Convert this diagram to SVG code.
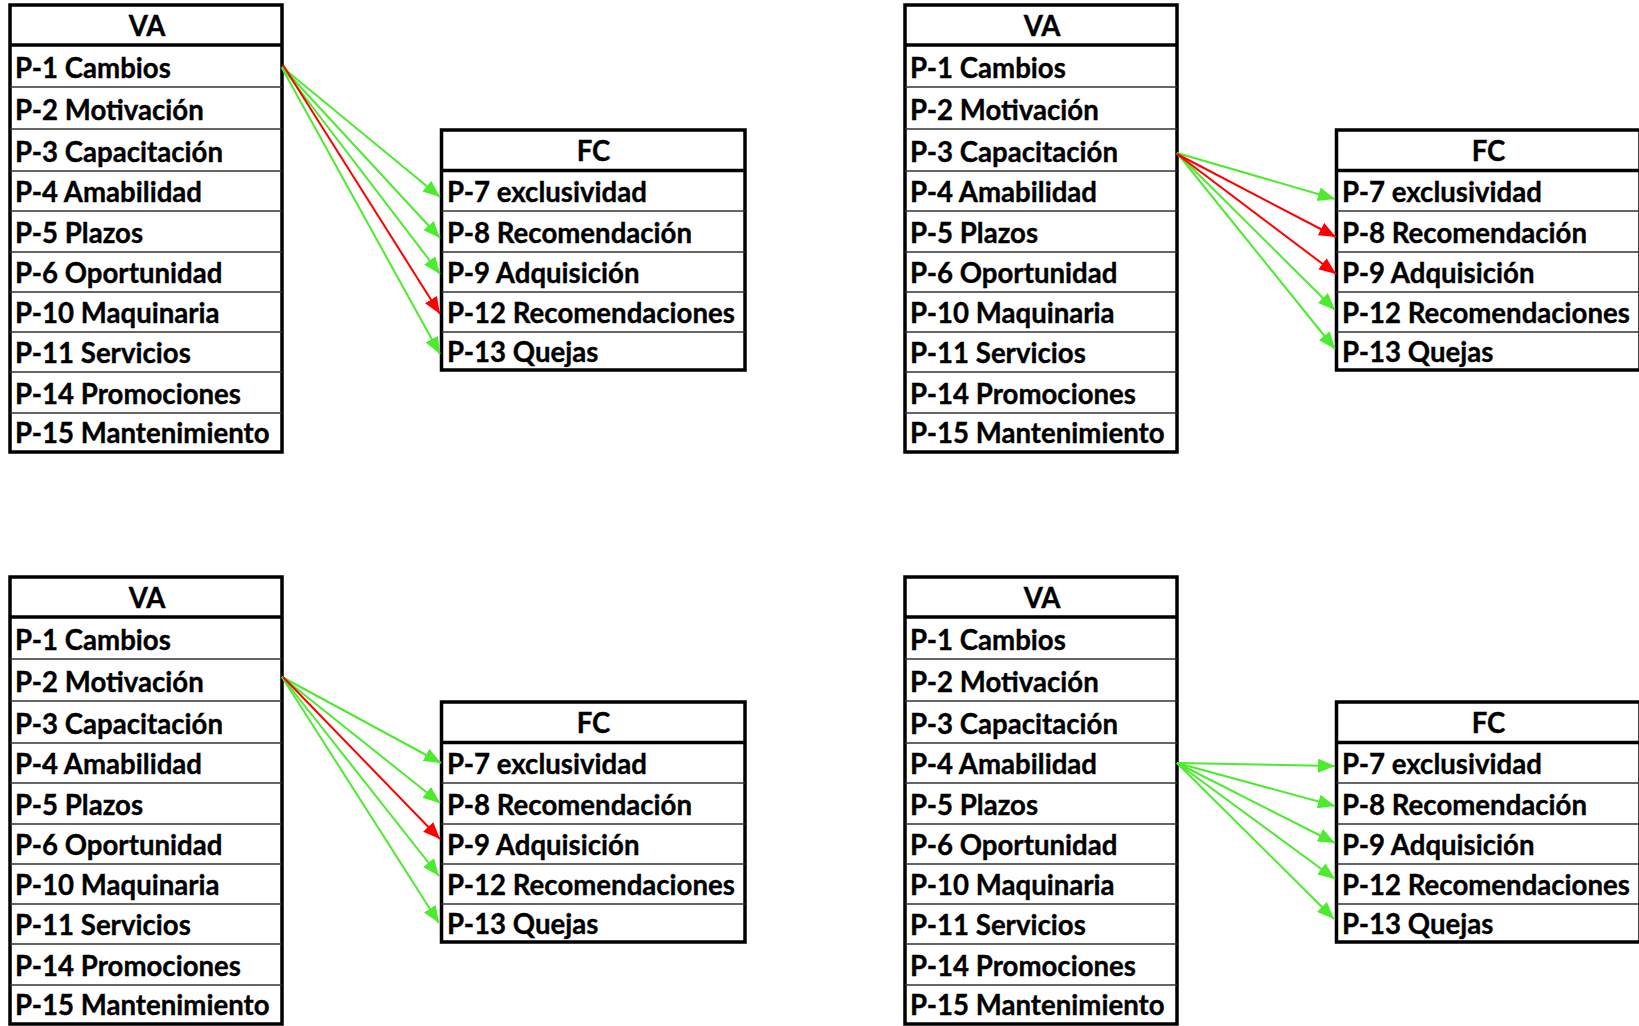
<svg xmlns="http://www.w3.org/2000/svg" width="1639" height="1026" viewBox="0 0 1639 1026">
  <style>
    .frame { fill: #ffffff; stroke: #000000; stroke-width: 3.5; }
    .rule { stroke: #333333; stroke-width: 1.6; }
    .head-rule { stroke: #000000; stroke-width: 3.5; }
    .lbl { font-family: Lato, "Open Sans", "Liberation Sans", sans-serif; font-weight: 700; font-size: 27.6px; fill: #000000; stroke: #000000; stroke-width: 0.35px; }
    .hdr { text-anchor: middle; }
    .link { fill: none; stroke-width: 2; }
    .pos { stroke: #4ceb2f; marker-end: url(#tip-green); }
    .neg { stroke: #ff0000; marker-end: url(#tip-red); }
  </style>
  <defs>
    <marker id="tip-green" markerUnits="userSpaceOnUse" markerWidth="18" markerHeight="14" refX="17" refY="7" orient="auto">
      <path d="M0,0 L17,7 L0,14 Z" fill="#4ceb2f"/>
    </marker>
    <marker id="tip-red" markerUnits="userSpaceOnUse" markerWidth="18" markerHeight="14" refX="17" refY="7" orient="auto">
      <path d="M0,0 L17,7 L0,14 Z" fill="#ff0000"/>
    </marker>
  </defs>

  <rect x="0" y="0" width="1639" height="1026" fill="#ffffff"/>

  <!-- ===== top left: links from P-1 Cambios ===== -->
  <g id="va-top-left">
    <rect class="frame" x="10" y="5" width="272" height="447"/>
    <line class="rule" x1="10" y1="87" x2="282" y2="87"/>
    <line class="rule" x1="10" y1="129" x2="282" y2="129"/>
    <line class="rule" x1="10" y1="171" x2="282" y2="171"/>
    <line class="rule" x1="10" y1="211" x2="282" y2="211"/>
    <line class="rule" x1="10" y1="252" x2="282" y2="252"/>
    <line class="rule" x1="10" y1="292" x2="282" y2="292"/>
    <line class="rule" x1="10" y1="332" x2="282" y2="332"/>
    <line class="rule" x1="10" y1="372" x2="282" y2="372"/>
    <line class="rule" x1="10" y1="413" x2="282" y2="413"/>
    <line class="head-rule" x1="10" y1="45" x2="282" y2="45"/>
    <text class="lbl hdr" x="147" y="36">VA</text>
    <text class="lbl" x="15" y="78">P-1 Cambios</text>
    <text class="lbl" x="15" y="120">P-2 Motivación</text>
    <text class="lbl" x="15" y="162">P-3 Capacitación</text>
    <text class="lbl" x="15" y="202">P-4 Amabilidad</text>
    <text class="lbl" x="15" y="243">P-5 Plazos</text>
    <text class="lbl" x="15" y="283">P-6 Oportunidad</text>
    <text class="lbl" x="15" y="323">P-10 Maquinaria</text>
    <text class="lbl" x="15" y="363">P-11 Servicios</text>
    <text class="lbl" x="15" y="404">P-14 Promociones</text>
    <text class="lbl" x="15" y="443">P-15 Mantenimiento</text>
  </g>
  <g id="fc-top-left">
    <rect class="frame" x="441.5" y="130" width="303.5" height="240"/>
    <line class="rule" x1="441.5" y1="211" x2="745" y2="211"/>
    <line class="rule" x1="441.5" y1="252" x2="745" y2="252"/>
    <line class="rule" x1="441.5" y1="292" x2="745" y2="292"/>
    <line class="rule" x1="441.5" y1="332" x2="745" y2="332"/>
    <line class="head-rule" x1="441.5" y1="170.5" x2="745" y2="170.5"/>
    <text class="lbl hdr" x="593.5" y="161">FC</text>
    <text class="lbl" x="447" y="202">P-7 exclusividad</text>
    <text class="lbl" x="447" y="243">P-8 Recomendación</text>
    <text class="lbl" x="447" y="283">P-9 Adquisición</text>
    <text class="lbl" x="447" y="323">P-12 Recomendaciones</text>
    <text class="lbl" x="447" y="362">P-13 Quejas</text>
  </g>

  <!-- ===== top right: links from P-3 Capacitación ===== -->
  <g id="va-top-right" transform="translate(895,0)">
    <rect class="frame" x="10" y="5" width="272" height="447"/>
    <line class="rule" x1="10" y1="87" x2="282" y2="87"/>
    <line class="rule" x1="10" y1="129" x2="282" y2="129"/>
    <line class="rule" x1="10" y1="171" x2="282" y2="171"/>
    <line class="rule" x1="10" y1="211" x2="282" y2="211"/>
    <line class="rule" x1="10" y1="252" x2="282" y2="252"/>
    <line class="rule" x1="10" y1="292" x2="282" y2="292"/>
    <line class="rule" x1="10" y1="332" x2="282" y2="332"/>
    <line class="rule" x1="10" y1="372" x2="282" y2="372"/>
    <line class="rule" x1="10" y1="413" x2="282" y2="413"/>
    <line class="head-rule" x1="10" y1="45" x2="282" y2="45"/>
    <text class="lbl hdr" x="147" y="36">VA</text>
    <text class="lbl" x="15" y="78">P-1 Cambios</text>
    <text class="lbl" x="15" y="120">P-2 Motivación</text>
    <text class="lbl" x="15" y="162">P-3 Capacitación</text>
    <text class="lbl" x="15" y="202">P-4 Amabilidad</text>
    <text class="lbl" x="15" y="243">P-5 Plazos</text>
    <text class="lbl" x="15" y="283">P-6 Oportunidad</text>
    <text class="lbl" x="15" y="323">P-10 Maquinaria</text>
    <text class="lbl" x="15" y="363">P-11 Servicios</text>
    <text class="lbl" x="15" y="404">P-14 Promociones</text>
    <text class="lbl" x="15" y="443">P-15 Mantenimiento</text>
  </g>
  <g id="fc-top-right" transform="translate(895,0)">
    <rect class="frame" x="441.5" y="130" width="303.5" height="240"/>
    <line class="rule" x1="441.5" y1="211" x2="745" y2="211"/>
    <line class="rule" x1="441.5" y1="252" x2="745" y2="252"/>
    <line class="rule" x1="441.5" y1="292" x2="745" y2="292"/>
    <line class="rule" x1="441.5" y1="332" x2="745" y2="332"/>
    <line class="head-rule" x1="441.5" y1="170.5" x2="745" y2="170.5"/>
    <text class="lbl hdr" x="593.5" y="161">FC</text>
    <text class="lbl" x="447" y="202">P-7 exclusividad</text>
    <text class="lbl" x="447" y="243">P-8 Recomendación</text>
    <text class="lbl" x="447" y="283">P-9 Adquisición</text>
    <text class="lbl" x="447" y="323">P-12 Recomendaciones</text>
    <text class="lbl" x="447" y="362">P-13 Quejas</text>
  </g>

  <!-- ===== bottom left: links from P-2 Motivación ===== -->
  <g id="va-bottom-left" transform="translate(0,572)">
    <rect class="frame" x="10" y="5" width="272" height="447"/>
    <line class="rule" x1="10" y1="87" x2="282" y2="87"/>
    <line class="rule" x1="10" y1="129" x2="282" y2="129"/>
    <line class="rule" x1="10" y1="171" x2="282" y2="171"/>
    <line class="rule" x1="10" y1="211" x2="282" y2="211"/>
    <line class="rule" x1="10" y1="252" x2="282" y2="252"/>
    <line class="rule" x1="10" y1="292" x2="282" y2="292"/>
    <line class="rule" x1="10" y1="332" x2="282" y2="332"/>
    <line class="rule" x1="10" y1="372" x2="282" y2="372"/>
    <line class="rule" x1="10" y1="413" x2="282" y2="413"/>
    <line class="head-rule" x1="10" y1="45" x2="282" y2="45"/>
    <text class="lbl hdr" x="147" y="36">VA</text>
    <text class="lbl" x="15" y="78">P-1 Cambios</text>
    <text class="lbl" x="15" y="120">P-2 Motivación</text>
    <text class="lbl" x="15" y="162">P-3 Capacitación</text>
    <text class="lbl" x="15" y="202">P-4 Amabilidad</text>
    <text class="lbl" x="15" y="243">P-5 Plazos</text>
    <text class="lbl" x="15" y="283">P-6 Oportunidad</text>
    <text class="lbl" x="15" y="323">P-10 Maquinaria</text>
    <text class="lbl" x="15" y="363">P-11 Servicios</text>
    <text class="lbl" x="15" y="404">P-14 Promociones</text>
    <text class="lbl" x="15" y="443">P-15 Mantenimiento</text>
  </g>
  <g id="fc-bottom-left" transform="translate(0,572)">
    <rect class="frame" x="441.5" y="130" width="303.5" height="240"/>
    <line class="rule" x1="441.5" y1="211" x2="745" y2="211"/>
    <line class="rule" x1="441.5" y1="252" x2="745" y2="252"/>
    <line class="rule" x1="441.5" y1="292" x2="745" y2="292"/>
    <line class="rule" x1="441.5" y1="332" x2="745" y2="332"/>
    <line class="head-rule" x1="441.5" y1="170.5" x2="745" y2="170.5"/>
    <text class="lbl hdr" x="593.5" y="161">FC</text>
    <text class="lbl" x="447" y="202">P-7 exclusividad</text>
    <text class="lbl" x="447" y="243">P-8 Recomendación</text>
    <text class="lbl" x="447" y="283">P-9 Adquisición</text>
    <text class="lbl" x="447" y="323">P-12 Recomendaciones</text>
    <text class="lbl" x="447" y="362">P-13 Quejas</text>
  </g>

  <!-- ===== bottom right: links from P-4 Amabilidad ===== -->
  <g id="va-bottom-right" transform="translate(895,572)">
    <rect class="frame" x="10" y="5" width="272" height="447"/>
    <line class="rule" x1="10" y1="87" x2="282" y2="87"/>
    <line class="rule" x1="10" y1="129" x2="282" y2="129"/>
    <line class="rule" x1="10" y1="171" x2="282" y2="171"/>
    <line class="rule" x1="10" y1="211" x2="282" y2="211"/>
    <line class="rule" x1="10" y1="252" x2="282" y2="252"/>
    <line class="rule" x1="10" y1="292" x2="282" y2="292"/>
    <line class="rule" x1="10" y1="332" x2="282" y2="332"/>
    <line class="rule" x1="10" y1="372" x2="282" y2="372"/>
    <line class="rule" x1="10" y1="413" x2="282" y2="413"/>
    <line class="head-rule" x1="10" y1="45" x2="282" y2="45"/>
    <text class="lbl hdr" x="147" y="36">VA</text>
    <text class="lbl" x="15" y="78">P-1 Cambios</text>
    <text class="lbl" x="15" y="120">P-2 Motivación</text>
    <text class="lbl" x="15" y="162">P-3 Capacitación</text>
    <text class="lbl" x="15" y="202">P-4 Amabilidad</text>
    <text class="lbl" x="15" y="243">P-5 Plazos</text>
    <text class="lbl" x="15" y="283">P-6 Oportunidad</text>
    <text class="lbl" x="15" y="323">P-10 Maquinaria</text>
    <text class="lbl" x="15" y="363">P-11 Servicios</text>
    <text class="lbl" x="15" y="404">P-14 Promociones</text>
    <text class="lbl" x="15" y="443">P-15 Mantenimiento</text>
  </g>
  <g id="fc-bottom-right" transform="translate(895,572)">
    <rect class="frame" x="441.5" y="130" width="303.5" height="240"/>
    <line class="rule" x1="441.5" y1="211" x2="745" y2="211"/>
    <line class="rule" x1="441.5" y1="252" x2="745" y2="252"/>
    <line class="rule" x1="441.5" y1="292" x2="745" y2="292"/>
    <line class="rule" x1="441.5" y1="332" x2="745" y2="332"/>
    <line class="head-rule" x1="441.5" y1="170.5" x2="745" y2="170.5"/>
    <text class="lbl hdr" x="593.5" y="161">FC</text>
    <text class="lbl" x="447" y="202">P-7 exclusividad</text>
    <text class="lbl" x="447" y="243">P-8 Recomendación</text>
    <text class="lbl" x="447" y="283">P-9 Adquisición</text>
    <text class="lbl" x="447" y="323">P-12 Recomendaciones</text>
    <text class="lbl" x="447" y="362">P-13 Quejas</text>
  </g>

  <g id="connectors">
    <!-- from P-1 -->
    <line class="link pos" x1="282" y1="67" x2="440" y2="197"/>
    <line class="link pos" x1="282" y1="67" x2="440" y2="238"/>
    <line class="link pos" x1="282" y1="67" x2="440" y2="274"/>
    <line class="link pos" x1="282" y1="68" x2="440" y2="354"/>
    <line class="link neg" x1="283" y1="65" x2="440" y2="314"/>

    <!-- from P-3 -->
    <line class="link pos" x1="1177" y1="153" x2="1335" y2="199"/>
    <line class="link pos" x1="1177" y1="153" x2="1335" y2="310"/>
    <line class="link pos" x1="1177" y1="153" x2="1335" y2="349"/>
    <line class="link neg" x1="1177" y1="154" x2="1336" y2="237"/>
    <line class="link neg" x1="1177" y1="154" x2="1336" y2="274"/>

    <!-- from P-2 -->
    <line class="link pos" x1="282" y1="677" x2="441" y2="763"/>
    <line class="link pos" x1="282" y1="677" x2="440" y2="803"/>
    <line class="link pos" x1="282" y1="677" x2="439" y2="876"/>
    <line class="link pos" x1="282" y1="677" x2="439" y2="923"/>
    <line class="link neg" x1="283" y1="677" x2="440" y2="839"/>

    <!-- from P-4 -->
    <line class="link pos" x1="1177" y1="763" x2="1335" y2="766"/>
    <line class="link pos" x1="1177" y1="763" x2="1335" y2="806"/>
    <line class="link pos" x1="1177" y1="763" x2="1335" y2="843"/>
    <line class="link pos" x1="1177" y1="763" x2="1335" y2="879"/>
    <line class="link pos" x1="1177" y1="763" x2="1334" y2="919"/>
  </g>
</svg>
